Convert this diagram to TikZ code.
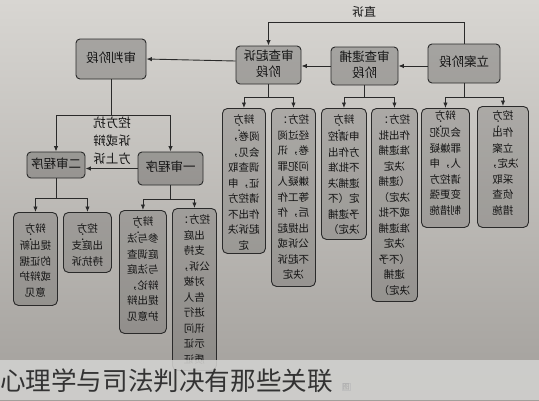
\documentclass[tikz,border=0pt]{standalone}
\usepackage{graphicx}
\usepackage{array}
\usepackage{fontspec}
\setmainfont{Noto Sans CJK SC}
\usetikzlibrary{arrows.meta,calc}
\definecolor{linec}{HTML}{2A2A2A}
\definecolor{inkc}{HTML}{141414}
\definecolor{papertop}{HTML}{D8D6D2}
\definecolor{paperbot}{HTML}{A29F9B}
\definecolor{capbar}{HTML}{D2D2D0}
\newcommand{\mtext}[1]{\reflectbox{\begin{tabular}{@{}c@{}}#1\end{tabular}}}
\newcommand{\cln}{\makebox[2.4em][r]{：}}
\begin{document}
\begin{tikzpicture}[x=1pt,y=-1pt,
  stagebox/.style={draw=linec, line width=0.9pt, rounded corners=4pt,
    fill=black, fill opacity=0.21, text opacity=1, text=inkc, inner sep=0pt,
    font=\fontsize{12.5}{16}\selectfont},
  leafbox/.style={draw=linec, line width=0.9pt, rounded corners=5pt,
    fill=black, fill opacity=0.15, inner sep=0pt, anchor=north west},
  leaftext/.style={inner sep=0pt, anchor=north, text=inkc,
    font=\fontsize{10.5}{15.5}\selectfont},
  lbl/.style={inner sep=0pt, text=inkc, font=\fontsize{12.5}{18}\selectfont},
  arr/.style={draw=linec, line width=0.9pt, -{Latex[length=5.5pt,width=4.5pt]}}
]
\useasboundingbox (0,0) rectangle (539,400);
% paper background
\shade[top color=papertop, bottom color=paperbot] (0,0) rectangle (539,400);

% stage boxes
\node[stagebox, minimum width=70pt, minimum height=40pt] (SP) at (111,59) {\mtext{审判阶段}};
\node[stagebox, minimum width=65pt, minimum height=38pt] (QS) at (268.5,65) {\mtext{审查起诉\\阶段}};
\node[stagebox, minimum width=67pt, minimum height=38pt] (DB) at (364.5,66) {\mtext{审查逮捕\\阶段}};
\node[stagebox, minimum width=72pt, minimum height=39pt] (LA) at (464,63.5) {\mtext{立案阶段}};
\node[stagebox, minimum width=58pt, minimum height=26pt] (ER) at (56,165) {\mtext{二审程序}};
\node[stagebox, minimum width=65pt, minimum height=33pt] (YS) at (170.5,168.5) {\mtext{一审程序}};

% leaf boxes
\node[leafbox, minimum width=43pt, minimum height=145pt] (A) at (222,108) {};
\node[leafbox, minimum width=44pt, minimum height=178pt] (B) at (271,108) {};
\node[leafbox, minimum width=45pt, minimum height=131pt] (C) at (321,108) {};
\node[leafbox, minimum width=46pt, minimum height=193pt] (D) at (371,108) {};
\node[leafbox, minimum width=48pt, minimum height=119pt] (E) at (421,108) {};
\node[leafbox, minimum width=51pt, minimum height=121pt] (F) at (477,106) {};
\node[leafbox, minimum width=44pt, minimum height=93pt] (G) at (13,212) {};
\node[leafbox, minimum width=48pt, minimum height=60pt] (H) at (63,212) {};
\node[leafbox, minimum width=47pt, minimum height=123pt] (I) at (119,210) {};
\node[leafbox, minimum width=44pt, minimum height=162pt] (J) at (172,208) {};

% leaf texts
\node[leaftext] (tA) at ([yshift=-4.5pt]A.north) {\mtext{辩方\\[-8pt]\cln\\[-6pt]阅卷，\\会见，\\调查取\\证，申\\请控方\\作出不\\起诉决\\定}};
\node[leaftext] (tB) at ([yshift=-4.5pt]B.north) {\mtext{控方：\\经过阅\\卷，讯\\问犯罪\\嫌疑人\\等工作\\后，作\\出提起\\公诉或\\不起诉\\决定}};
\node[leaftext] (tC) at ([yshift=-4.5pt]C.north) {\mtext{辩方\\[-8pt]\cln\\[-6pt]申请控\\方作出\\不批准\\逮捕决\\定（不\\予逮捕\\决定）}};
\node[leaftext] (tD) at ([yshift=-4.5pt]D.north) {\mtext{控方：\\作出批\\准逮捕\\决定\\（逮捕\\决定）\\或不批\\准逮捕\\决定\\（不予\\逮捕\\决定）}};
\node[leaftext] (tE) at ([yshift=-0.5pt]E.north) {\mtext{辩方\\[-8pt]\cln\\[-6pt]会见犯\\罪嫌疑\\人，申\\请控方\\变更强\\制措施}};
\node[leaftext] (tF) at ([yshift=-2.5pt]F.north) {\mtext{控方\\[-8pt]\cln\\[-6pt]作出\\立案\\决定，\\采取\\侦查\\措施}};
\node[leaftext] (tG) at ([yshift=-9.5pt]G.north) {\mtext{辩方\\[-8pt]\cln\\[-6pt]提出新\\的证据\\或辩护\\意见}};
\node[leaftext] (tH) at ([yshift=-9.5pt]H.north) {\mtext{控方\\[-8pt]\cln\\[-6pt]出庭支\\持抗诉}};
\node[leaftext] (tI) at ([yshift=-4.5pt]I.north) {\mtext{辩方\\[-8pt]\cln\\[-6pt]参与法\\庭调查\\与法庭\\辩论，\\提出辩\\护意见}};
\node[leaftext] (tJ) at ([yshift=-4.5pt]J.north) {\mtext{控方：\\出庭\\支持\\公诉，\\对被\\告人\\进行\\讯问\\示证\\质证}};

% main flow
\draw[arr] (LA.north) -- ++(0,-21) -| (QS.north);
\node[lbl, font=\fontsize{12}{14}\selectfont] (ZS) at (364,14) {\mtext{直诉}};
\draw[arr] (LA.west |- DB.east) -- (DB.east);
\draw[arr] (DB.west) -- (DB.west -| QS.east);
\draw[arr] ([yshift=4pt]QS.west) -- (SP.east);

% forks
\draw[arr] (QS.south) -- ++(0,13) -| (A.north);
\draw[arr] (QS.south) -- ++(0,13) -| (B.north);
\draw[arr] (DB.south) -- ++(0,12) -| (C.north);
\draw[arr] (DB.south) -- ++(0,12) -| (D.north);
\draw[arr] (LA.south) -- ++(0,14) -| (E.north);
\draw[arr] (LA.south) -- ++(0,14) -| (F.north);
\draw[arr] (SP.south) -- ++(0,36) -| (ER.north);
\draw[arr] (SP.south) -- ++(0,36) -| (YS.north);
\draw[arr] (YS.west) -- (YS.west -| ER.east);
\node[lbl] (KF) at (112,142) {\mtext{控方抗\\诉或辩\\方上诉}};
\draw[arr] (ER.south) -- ++(0,20) -| (G.north);
\draw[arr] (ER.south) -- ++(0,20) -| (H.north);
\draw[arr] (YS.south) -- ++(0,14) -| (I.north);
\draw[arr] (YS.south) -- ++(0,14) -| (J.north);

% caption bar
\fill[capbar, opacity=0.88] (0,360) rectangle (539,400);
\node[inner sep=0pt, anchor=base west, text=black!80, font=\fontsize{25.6}{28}\selectfont] (CAP) at (0,390) {心理学与司法判决有那些关联};
\node[inner sep=0.6pt, draw=black!25, text=black!35, font=\fontsize{7}{8}\selectfont] (ICON) at (346,387) {图};
\end{tikzpicture}
\end{document}
